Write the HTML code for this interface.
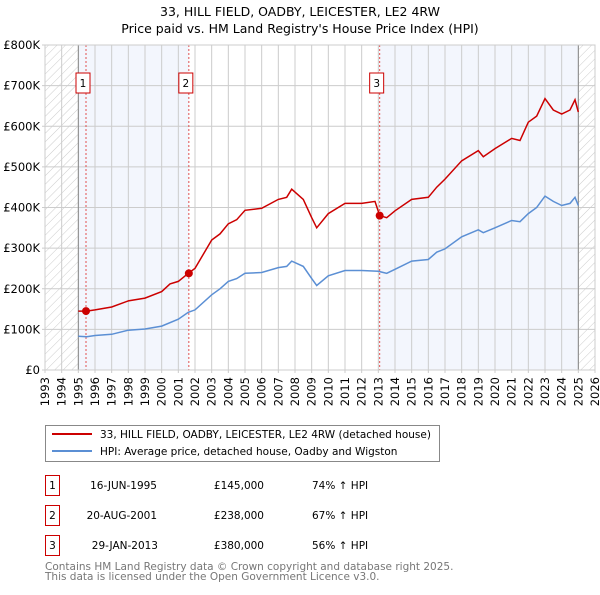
<!DOCTYPE html>
<html><head><meta charset="utf-8"><style>
body{margin:0;background:#fff;font-family:"Liberation Sans","DejaVu Sans",sans-serif}
svg text{font-family:"DejaVu Sans","Liberation Sans",sans-serif}
</style></head><body>
<svg id="c" width="600" height="590" xmlns="http://www.w3.org/2000/svg">
<defs><pattern id="h" width="6" height="6" patternUnits="userSpaceOnUse" patternTransform="rotate(45)"><line x1="0" y1="0" x2="0" y2="6" stroke="#ccc" stroke-width="1"/></pattern></defs>
<text x="300" y="16" text-anchor="middle" font-size="12.5">33, HILL FIELD, OADBY, LEICESTER, LE2 4RW</text>
<text x="300" y="33" text-anchor="middle" font-size="12.5">Price paid vs. HM Land Registry's House Price Index (HPI)</text>
<g id="plot"></g>
<g>
<rect x="45.5" y="425.5" width="394" height="36" fill="#fff" stroke="#888"/>
<line x1="52" y1="434" x2="92" y2="434" stroke="#cc0000" stroke-width="2"/>
<text x="100" y="438" font-size="10.5">33, HILL FIELD, OADBY, LEICESTER, LE2 4RW (detached house)</text>
<line x1="52" y1="451" x2="92" y2="451" stroke="#5b8fd4" stroke-width="2"/>
<text x="100" y="455" font-size="10.5">HPI: Average price, detached house, Oadby and Wigston</text>
</g>
<g font-size="10.5">
<rect x="45.5" y="475.5" width="14" height="20" fill="#fff" stroke="#c00"/><text x="52.5" y="489" text-anchor="middle">1</text>
<text x="157" y="489" text-anchor="end">16-JUN-1995</text><text x="264" y="489" text-anchor="end">£145,000</text><text x="312" y="489">74% ↑ HPI</text>
<rect x="45.5" y="505.5" width="14" height="20" fill="#fff" stroke="#c00"/><text x="52.5" y="519" text-anchor="middle">2</text>
<text x="157" y="519" text-anchor="end">20-AUG-2001</text><text x="264" y="519" text-anchor="end">£238,000</text><text x="312" y="519">67% ↑ HPI</text>
<rect x="45.5" y="535.5" width="14" height="20" fill="#fff" stroke="#c00"/><text x="52.5" y="549" text-anchor="middle">3</text>
<text x="158" y="549" text-anchor="end">29-JAN-2013</text><text x="264" y="549" text-anchor="end">£380,000</text><text x="312" y="549">56% ↑ HPI</text>
</g>
<text x="45" y="570" font-size="10.5" fill="#777">Contains HM Land Registry data © Crown copyright and database right 2025.</text>
<text x="45" y="580" font-size="10.5" fill="#777">This data is licensed under the Open Government Licence v3.0.</text>
</svg>
<script>
const hpiYears=[1995.0,1995.5,1996,1997,1998,1999,2000,2001,2001.6,2002,2003,2003.5,2004,2004.5,2005,2006,2007,2007.5,2007.8,2008.5,2009.0,2009.3,2010,2011,2012,2013,2013.5,2014,2015,2016,2016.5,2017,2018,2019,2019.3,2020,2021,2021.5,2022,2022.5,2023,2023.5,2024,2024.5,2024.8,2025];
const hpiValues=[83,82,85,88,98,101,108,125,142,148,185,200,218,225,238,240,252,255,268,255,225,208,232,245,245,243,238,248,268,272,290,298,328,345,338,350,368,365,385,400,428,415,405,410,425,405];
const priceYears=[1995.0,1995.5,1996,1997,1998,1999,2000,2000.5,2001,2001.6,2002,2003,2003.5,2004,2004.5,2005,2006,2007,2007.5,2007.8,2008.5,2009,2009.3,2010,2011,2012,2012.8,2013.08,2013.5,2014,2015,2016,2016.5,2017,2018,2019,2019.3,2020,2021,2021.5,2022,2022.5,2023,2023.5,2024,2024.5,2024.8,2025];
const priceValues=[145,145,148,155,170,177,193,212,218,238,250,320,335,360,370,393,398,420,425,445,420,375,350,385,410,410,415,380,375,392,420,425,450,470,515,540,525,545,570,565,610,625,668,640,630,640,665,635];
const saleYears=[1995.46,2001.63,2013.08];
const saleValues=[145,238,380];
const saleLabels=["1","2","3"];
const yTicks=[0,100,200,300,400,500,600,700,800];
const yTickLabels=["£0","£100K","£200K","£300K","£400K","£500K","£600K","£700K","£800K"];
const xTicks=[1993,1994,1995,1996,1997,1998,1999,2000,2001,2002,2003,2004,2005,2006,2007,2008,2009,2010,2011,2012,2013,2014,2015,2016,2017,2018,2019,2020,2021,2022,2023,2024,2025,2026];

const X0=45,X1=595,Y0=370,Y1=45;
const x=y=>X0+(y-1993)/(2026-1993)*(X1-X0);
const yv=v=>Y0-v/800*(Y0-Y1);
const NS="http://www.w3.org/2000/svg";
const g=document.getElementById('plot');
function mk(t,a,p){const e=document.createElementNS(NS,t);for(const k in a)e.setAttribute(k,a[k]);(p||g).appendChild(e);return e;}
let e;
e=mk('rect',{x:X0,y:Y1,width:X1-X0,height:Y0-Y1,fill:'#fff'});


e=mk('rect',{x:x(1995),y:Y1,width:x(2001.63)-x(1995),height:Y0-Y1,fill:'#f3f6fd'});


e=mk('rect',{x:x(2013.08),y:Y1,width:x(2025)-x(2013.08),height:Y0-Y1,fill:'#f3f6fd'});


e=mk('rect',{x:X0,y:Y1,width:x(1995)-X0,height:Y0-Y1,fill:'url(#h)'});


e=mk('rect',{x:x(2025),y:Y1,width:X1-x(2025),height:Y0-Y1,fill:'url(#h)'});


xTicks.forEach(t=>{
 e=mk('line',{x1:x(t),x2:x(t),y1:Y1,y2:Y0+3,stroke:'#ccc'});
 
 
 e=mk('text',{x:x(t)+4,y:Y0+7,'text-anchor':'end','font-size':'11.5',transform:'rotate(-90 '+(x(t)+4)+' '+(Y0+7)+')'});e.textContent=t;
 
 
});
yTicks.forEach((t,i)=>{
 e=mk('line',{x1:X0-3,x2:X1,y1:yv(t),y2:yv(t),stroke:'#ccc'});
 
 
 e=mk('text',{x:X0-5,y:yv(t)+4,'text-anchor':'end','font-size':'11.5'});e.textContent=yTickLabels[i];
 
 
});
[1995,2025].forEach(t=>{e=mk('line',{x1:x(t),x2:x(t),y1:Y1,y2:Y0,stroke:'#888'});
 
 });
saleYears.forEach((s,i)=>{
 e=mk('line',{x1:x(s),x2:x(s),y1:Y1,y2:Y0,stroke:'#e05050','stroke-dasharray':'2,2'});
 
 
 const bx=x(s)-10;
 e=mk('rect',{x:bx,y:73,width:14,height:20,fill:'#fff',stroke:'#c00'});
 
 
 e=mk('text',{x:bx+7,y:87,'text-anchor':'middle','font-size':'10.5'});e.textContent=saleLabels[i];
 
 
});
function path(xs,vs){return xs.map((t,i)=>(i?'L':'M')+x(t).toFixed(1)+','+yv(vs[i]).toFixed(1)).join('');}
e=mk('path',{d:path(hpiYears,hpiValues),fill:'none',stroke:'#5b8fd4','stroke-width':1.5});


e=mk('path',{d:path(priceYears,priceValues),fill:'none',stroke:'#cc0000','stroke-width':1.5});


saleYears.forEach((s,i)=>{e=mk('circle',{cx:x(s),cy:yv(saleValues[i]),r:4,fill:'#cc0000'});
 
 });
e=mk('rect',{x:X0,y:Y1,width:X1-X0,height:Y0-Y1,fill:'none',stroke:'#ccc'});


</script>
</body></html>
